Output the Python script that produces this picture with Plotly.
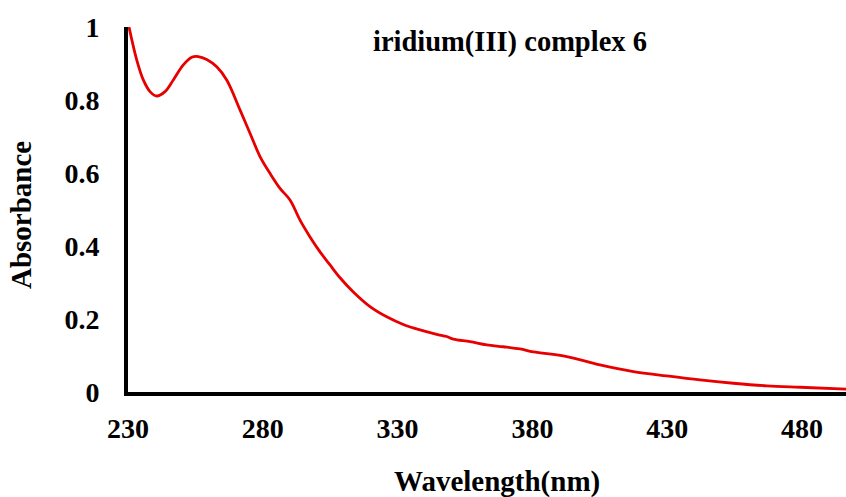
import plotly.graph_objects as go

# Data (wavelength in nm, absorbance)
wavelength = [230.37, 233.23, 235.68, 238.16, 240.65, 243.72, 246.80, 250.51, 253.63,
              256.08, 259.19, 262.90, 266.61, 271.54, 275.25, 278.96, 282.67, 286.38,
              290.09, 293.80, 297.51, 301.22, 304.93, 308.64, 313.57, 319.76, 325.96,
              332.11, 338.31, 344.50, 348.21, 350.66, 356.85, 363.05, 369.21, 375.40,
              380.33, 392.72, 405.07, 417.43, 429.81, 442.17, 454.52, 466.91, 479.26,
              496.32]
absorbance = [1.0, 0.910, 0.855, 0.823, 0.811, 0.823, 0.855, 0.896, 0.917,
              0.919, 0.911, 0.891, 0.855, 0.773, 0.709, 0.645, 0.599, 0.558,
              0.526, 0.471, 0.425, 0.384, 0.348, 0.313, 0.274, 0.234, 0.206,
              0.185, 0.170, 0.158, 0.152, 0.145, 0.138, 0.129, 0.124, 0.118,
              0.110, 0.097, 0.074, 0.056, 0.044, 0.033, 0.024, 0.017, 0.013,
              0.008]

x_ticks = [230, 280, 330, 380, 430, 480]
y_ticks = [0, 0.2, 0.4, 0.6, 0.8, 1]
y_tick_text = ["0", "0.2", "0.4", "0.6", "0.8", "1"]

FONT = "Liberation Serif"

fig = go.Figure()
fig.add_trace(go.Scatter(
    x=wavelength, y=absorbance, mode="lines",
    line=dict(color="#e80000", width=2.8, shape="spline", smoothing=1.0),
    showlegend=False, hoverinfo="skip",
))

fig.update_layout(
    width=846, height=497,
    margin=dict(l=128, r=0, t=27, b=105),
    paper_bgcolor="white", plot_bgcolor="white",
    font=dict(family=FONT, color="black"),
    xaxis=dict(
        range=[230, 496.3], tickvals=x_ticks, ticktext=[str(v) for v in x_ticks],
        showgrid=False, zeroline=False, showline=True, linecolor="black", linewidth=4,
        ticks="", ticklabelstandoff=8,
        tickfont=dict(family=FONT, size=28, color="black", weight="bold"),
    ),
    yaxis=dict(
        range=[0, 1], tickvals=y_ticks, ticktext=y_tick_text,
        showgrid=False, zeroline=False, showline=True, linecolor="black", linewidth=4,
        ticks="", ticklabelstandoff=19,
        tickfont=dict(family=FONT, size=28, color="black", weight="bold"),
    ),
    annotations=[
        dict(text="<b>iridium(III) complex 6</b>", xref="paper", yref="paper",
             x=0.532, y=0.958, xanchor="center", yanchor="middle", showarrow=False,
             font=dict(family=FONT, size=28.5, color="black")),
        dict(text="<b>Wavelength(nm)</b>", xref="paper", yref="paper",
             x=0.514, y=-0.244, xanchor="center", yanchor="middle", showarrow=False,
             font=dict(family=FONT, size=29, color="black")),
        dict(text="<b>Absorbance</b>", xref="paper", yref="paper",
             x=-0.149, y=0.485, xanchor="center", yanchor="middle", showarrow=False,
             textangle=-90, font=dict(family=FONT, size=29, color="black")),
    ],
)

fig.write_html("out.html")
